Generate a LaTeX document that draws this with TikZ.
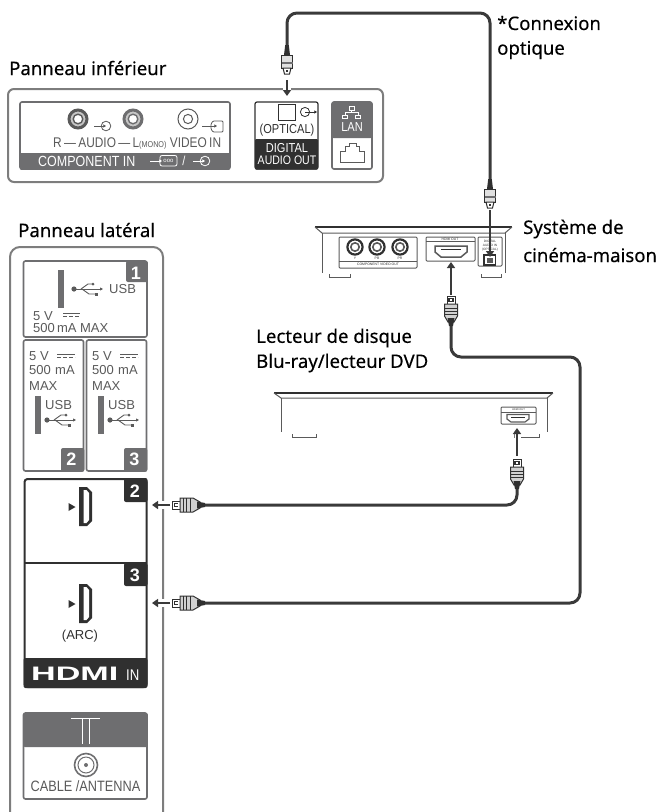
\documentclass[tikz,border=0pt]{standalone}
\usepackage{fontspec}
\usetikzlibrary{arrows.meta}
\setmainfont[FakeBold=0.25]{Noto Sans}
\newfontfamily\narrowf[FakeStretch=0.85]{Liberation Sans}
\newfontfamily\usualf{Liberation Sans}
\newfontfamily\wideb[FakeStretch=1.75]{Liberation Sans Bold}
\definecolor{cabl}{HTML}{3A3A3A}
\definecolor{pan}{HTML}{7D7D7D}
\definecolor{midg}{HTML}{6E6E70}
\definecolor{dk}{HTML}{303030}
\definecolor{txg}{HTML}{5A5A5A}
\tikzset{
  lab/.style={anchor=west,inner sep=0pt,font=\fontsize{18.6}{20}\selectfont,text=black},
  thin txt/.style={inner sep=0pt,font=\narrowf\fontsize{14}{15}\selectfont,text=txg},
  usb txt/.style={inner sep=0pt,anchor=west,font=\usualf\fontsize{13}{14}\selectfont,text=txg},
  white txt/.style={inner sep=0pt,font=\narrowf\fontsize{13}{15}\selectfont,text=white},
  tiny txt/.style={inner sep=0pt,font=\usualf\fontsize{3.4}{4}\selectfont,text=dk},
  panel/.style={draw=pan,line width=2pt,rounded corners=6pt},
  box/.style={draw=midg,line width=1.6pt,rounded corners=2pt},
  cable/.style={draw=cabl,line width=3pt,rounded corners=10pt},
  arrow line/.style={draw=cabl,line width=2pt,-{Triangle[length=6pt,width=8pt]}},
  halo/.style={draw=white,line width=8pt},
  dev/.style={draw=txg,line width=1pt},
  devtop/.style={draw=dk,line width=1.6pt},
  num/.style={inner sep=0pt,font=\usualf\bfseries\fontsize{18}{18}\selectfont,text=white},
}
% horizontal HDMI plug, tip at left
\newcommand{\plugH}[2]{\begin{scope}[shift={(#1,#2)}]
 \draw[fill=white,draw=dk,line width=.9pt] (0,-4) rectangle (8,4);
 \draw[fill=dk,draw=none] (2,-2.2) rectangle (6,2.2);
 \draw[fill=white,draw=none] (3.2,-1) rectangle (6,1);
 \draw[fill=black!18,draw=dk,line width=1pt] (8,-7) -- (21,-7) -- (28,-3) -- (28,3) -- (21,7) -- (8,7) -- cycle;
 \foreach \a in {11,14.5,18}{\draw[draw=dk,line width=.8pt] (\a,-7) -- (\a,7);}
 \draw[fill=dk,draw=none] (25,-3.5) -- (33,-2) -- (33,2) -- (25,3.5) -- cycle;
\end{scope}}
% vertical HDMI plug, tip at top
\newcommand{\plugV}[2]{\begin{scope}[shift={(#1,#2)}]
 \draw[fill=white,draw=dk,line width=.9pt] (-4,0) rectangle (4,8);
 \draw[fill=dk,draw=none] (-2.6,2) rectangle (2.6,6);
 \draw[fill=white,draw=none] (-1.2,3) rectangle (-.3,5);\draw[fill=white,draw=none] (.3,3) rectangle (1.2,5);
 \draw[fill=black!18,draw=dk,line width=1pt] (-6.5,8) -- (6.5,8) -- (6.5,20) -- (3,26) -- (-3,26) -- (-6.5,20) -- cycle;
 \foreach \a in {12,15,18}{\draw[draw=dk,line width=.8pt] (-6.5,\a) -- (6.5,\a);}
 \draw[fill=dk,draw=none] (-3.5,22) -- (3.5,22) -- (2,30) -- (-2,30) -- cycle;
\end{scope}}
% optical plug, cable above, tip below
\newcommand{\plugO}[2]{\begin{scope}[shift={(#1,#2)}]
 \draw[fill=dk,draw=none] (-1.8,-1) -- (1.8,-1) -- (3,9) -- (-3,9) -- cycle;
 \draw[fill=black!12,draw=dk,line width=1pt] (-5.5,9) rectangle (5.5,22);
 \draw[fill=midg,draw=none] (-5.5,16) rectangle (5.5,18);
 \draw[fill=white,draw=dk,line width=1pt] (-4,22) -- (4,22) -- (2.5,28) -- (-2.5,28) -- cycle;
 \fill[dk] (-1.2,24) rectangle (1.2,26);
\end{scope}}
% USB mark
\newcommand{\usbmark}[2]{\begin{scope}[shift={(#1,#2)}]
 \fill[txg] (0,0) circle (2.6);
 \draw[txg,line width=.9pt,-{Triangle[length=3pt,width=3pt]}] (0,0) -- (29,0);
 \draw[txg,line width=.9pt] (7,0) -- (14,-5) -- (19,-5);
 \fill[txg] (19,-5) circle (1.5);
 \draw[txg,line width=.9pt] (8,0) -- (15,5) -- (22,5);
 \fill[txg] (21,3.5) rectangle (24,6.5);
\end{scope}}
% DC mark
\newcommand{\dcmark}[3]{\begin{scope}[shift={(#1,#2)}]
 \draw[txg,line width=.9pt] (0,0) -- (#3,0);
 \draw[txg,line width=.9pt,dash pattern=on 4pt off 2pt] (0,3) -- (#3,3);
\end{scope}}
% small input mark: arrow into circle
\newcommand{\inmark}[3]{\begin{scope}[shift={(#1,#2)}]
 \draw[#3,line width=.8pt] (6,0) circle (4.8);
 \draw[#3,line width=.8pt,-{Triangle[length=2.6pt,width=3pt]}] (-6,0) -- (6,0);
\end{scope}}
% HDMI socket
\newcommand{\hdmisock}[2]{\begin{scope}[shift={(#1,#2)}]
 \fill[dk] (0,0) -- (8,0) -- (13,5) -- (13,34) -- (8,39) -- (0,39) -- cycle;
 \fill[white] (4.5,3) -- (7.5,3) -- (10,6) -- (10,33) -- (7.5,36) -- (4.5,36) -- cycle;
 \fill[dk] (-10.5,16) -- (-3.5,20) -- (-10.5,24) -- cycle;
\end{scope}}
\begin{document}
\begin{tikzpicture}[x=1pt,y=-1pt]
\useasboundingbox (0,0) rectangle (662,812);
% ---- labels
\node[lab] (lbot) at (9,68) {Panneau inférieur};
\node[lab] (lside) at (18,230) {Panneau latéral};
\node[lab] (lopt1) at (497,23) {*Connexion};
\node[lab] (lopt2) at (497,50) {optique};
\node[lab] (lhc1) at (523,229) {Système de};
\node[lab] (lhc2) at (523,255) {cinéma-maison};
\node[lab] (lbd1) at (256,338) {Lecteur de disque};
\node[lab] (lbd2) at (256,363) {Blu-ray/lecteur DVD};
% ---- bottom panel
\draw[panel] (8,89) rectangle (383,182);
\draw[box,fill=white] (20,102) rectangle (230,169);
\fill[midg,rounded corners=1pt] (20,153) rectangle (230,169.8);
\foreach \cx/\ci in {78/txg,133/midg}{
 \fill[black!22] (\cx,119) circle (8);
 \draw[\ci,line width=3pt] (\cx,119) circle (9);
 \fill[white] (\cx,119) circle (4.6);
 \draw[\ci,line width=1.4pt] (\cx,119) circle (4.8);}
\draw[txg,line width=1pt] (188,119) circle (10);
\draw[txg,line width=1pt] (188,119) circle (4.6);
\inmark{100}{126}{txg}
\begin{scope}[shift={(205,126)}]
 \draw[txg,line width=.8pt,rounded corners=1pt] (8,-5) -- (18,-5) -- (18,6) -- (8,6) -- (6,3) -- (6,-2) -- cycle;
 \draw[txg,line width=.8pt,-{Triangle[length=2.6pt,width=3pt]}] (-3,0) -- (12,0);
\end{scope}
\node[thin txt,anchor=west] (taudio) at (53,143) {R\,—\,AUDIO\,—\,L\raisebox{0pt}{\fontsize{8.5}{9}\selectfont(MONO)} VIDEO\,IN};
\node[white txt,anchor=west,font=\narrowf\fontsize{14.7}{15}\selectfont] (tcomp) at (38,161) {COMPONENT IN};
\draw[white,line width=.8pt,-{Triangle[length=2.6pt,width=3pt]}] (150,161) -- (162,161);
\draw[white,line width=.8pt,rounded corners=2pt] (160,155.5) rectangle (177,166);
\node[inner sep=0pt,font=\usualf\fontsize{6}{6}\selectfont,text=white] (tooo) at (168.5,160.5) {ooo};
\node[white txt] (tslash) at (184,161) {/};
\inmark{199}{161}{white}
\draw[draw=dk,line width=1.2pt,fill=white,rounded corners=2pt] (255,102) rectangle (318,169);
\fill[dk,rounded corners=1pt] (255,139) rectangle (318,169.6);
\draw[dk,line width=.9pt] (278,104.5) rectangle (295,120);
\draw[dk,line width=.8pt] (305,112) circle (4.6);
\draw[dk,line width=.8pt,-{Triangle[length=2.6pt,width=3pt]}] (305,112) -- (317,112);
\node[thin txt,text=dk,font=\narrowf\fontsize{13}{15}\selectfont] (topt) at (287,130) {(OPTICAL)};
\node[white txt] (tdig) at (287,148) {DIGITAL};
\node[white txt,font=\narrowf\fontsize{12.4}{15}\selectfont] (taud) at (287,160) {AUDIO OUT};
\draw[box,draw=midg,fill=white] (332,102) rectangle (372,169);
\fill[midg,rounded corners=1.5pt] (332,102) rectangle (372,138);
\begin{scope}[white,line width=.7pt]
 \draw (349,106.5) rectangle (354,110);
 \draw (351.5,110) -- (351.5,112.5) (345,115) -- (345,112.5) -- (358,112.5) -- (358,115);
 \draw (342.5,115) rectangle (347.5,118.5);
 \draw (355.5,115) rectangle (360.5,118.5);
\end{scope}
\node[white txt] (tlan) at (352,127.5) {LAN};
\draw[txg,line width=.9pt] (340,162) -- (340,151) -- (345,151) -- (345,146) -- (349,146) -- (349,143.5) -- (356,143.5) -- (356,146) -- (359,146) -- (359,151) -- (364,151) -- (364,162) -- cycle;
% ---- side panel
\begin{scope}
 \clip (0,240) rectangle (200,812);
 \draw[panel,rounded corners=10pt] (10,247) rectangle (163,830);
\end{scope}
\draw[box,fill=white] (23.5,261) rectangle (147,337);
\fill[midg,rounded corners=2pt] (126,261) rectangle (147.8,282);
\node[num] (n1) at (136,273) {1};
\fill[midg] (58,270) rectangle (64,308);
\usbmark{74}{289}
\node[usb txt] (tu1) at (109,289.5) {USB};
\node[usb txt] (tv1) at (33,316) {5 V};
\dcmark{63}{313.5}{17}
\node[usb txt] (tm1) at (33,328.5) {500\,mA MAX};
\foreach \dx/\nm in {0/2,63/3}{
 \begin{scope}[shift={(\dx,0)}]
 \draw[box,fill=white] (23.5,340) rectangle (83.5,471);
 \fill[midg,rounded corners=2pt] (61,448) rectangle (84.3,471.8);
 \node[num] at (71.5,459.5) {\nm};
 \node[usb txt] at (29,356) {5 V};
 \dcmark{57}{354}{18}
 \node[usb txt] at (29,370) {500\,\,mA};
 \node[usb txt] at (29,386) {MAX};
 \fill[midg] (35,396) rectangle (41,434);
 \node[usb txt] at (45,405) {USB};
 \usbmark{47}{420}
 \end{scope}}
% ---- HDMI block
\draw[draw=dk,line width=2pt,fill=white,rounded corners=3pt] (24.5,479) rectangle (146.5,687);
\draw[dk,line width=1.2pt] (24.5,563) -- (146.5,563);
\fill[dk,rounded corners=2pt] (23.5,658) rectangle (147.5,688);
\fill[dk,rounded corners=2pt] (124,478) rectangle (147.5,502);
\fill[dk,rounded corners=2pt] (124,563) rectangle (147.5,586);
\node[num] (n2) at (135,491) {2};
\node[num] (n3) at (135,575) {3};
\hdmisock{79}{487}
\hdmisock{79}{584}
\node[inner sep=0pt,font=\usualf\fontsize{13}{14}\selectfont,text=dk] (tarc) at (80,636) {(ARC)};
\node[inner sep=0pt,anchor=west,font=\wideb\fontsize{19.5}{20}\selectfont,text=white] (thd) at (31,674) {HDMI};
\node[white txt,anchor=west,font=\narrowf\fontsize{15.5}{16}\selectfont] (tin) at (126,675) {IN};
% ---- antenna block
\draw[box,draw=midg,fill=white] (23.5,713) rectangle (147,799);
\fill[midg,rounded corners=2pt] (23,713) rectangle (147.8,747);
\draw[white,line width=1pt] (71,718) -- (100,718) (82,718) -- (82,744) (89,718) -- (89,744);
\draw[midg,line width=1.6pt] (86,765) circle (11.5);
\draw[midg,line width=1pt] (86,765) circle (8);
\fill[midg] (86,765) circle (2);
\node[thin txt,font=\narrowf\fontsize{15}{16}\selectfont] (tcab) at (85.5,786) {CABLE /ANTENNA};
% ---- home theatre device
\draw[devtop] (315,227) -- (512,227);
\draw[dev] (315,227) -- (322,233) -- (505,233) -- (512,227);
\draw[dev] (322,233) -- (322,273) (505,233) -- (505,273);
\draw[dev] (329,274) -- (329,277) -- (350,277) -- (350,274);
\draw[dev] (481,274) -- (481,277) -- (501,277) -- (501,274);
\draw[dev,rounded corners=1pt] (339,237) rectangle (417,268);
\draw[dev] (339,261) -- (417,261);
\foreach \cx in {355,377,400}{
 \draw[dk,line width=2.2pt] (\cx,247) circle (7.6);
 \draw[txg,line width=1.6pt] (\cx,247) circle (4.2);}
\node[tiny txt] at (355,258.5) {Y};
\node[tiny txt] at (377,258.5) {PB};
\node[tiny txt] at (400,258.5) {PR};
\node[tiny txt] (tcv) at (378,264.7) {COMPONENT VIDEO OUT};
\draw[dev,rounded corners=1pt] (426,237) rectangle (475,261);
\draw[dev] (426,241) -- (475,241);
\node[tiny txt] (thout) at (450,239) {HDMI OUT};
\draw[txg,line width=1.5pt,fill=white] (435,246) -- (467,246) -- (467,252) -- (461,257) -- (441,257) -- (435,252) -- cycle;
\draw[dk,line width=1.4pt] (441,249.5) -- (461,249.5);
\draw[dev,rounded corners=1pt] (478,237) rectangle (502,266);
\node[tiny txt,align=center,font=\usualf\fontsize{3.2}{4}\selectfont] (tdin) at (490,245.5) {DIGITAL\\AUDIO IN\\(OPTICAL)};
\draw[dk,line width=1.6pt,fill=white] (484,255) rectangle (495.5,265);
\fill[txg] (487,258) rectangle (492.5,262.5);
% ---- Blu-ray device
\draw[devtop] (274,393) -- (553,393);
\draw[dev] (274,393) -- (281,398) -- (547,398) -- (553,393);
\draw[dev] (281,398) -- (281,432) (547,398) -- (547,432);
\draw[dev] (292,434) -- (292,437) -- (316,437) -- (316,434);
\draw[dev] (521,437) -- (539,437) -- (539,434);
\draw[pan,line width=.8pt] (514,432) -- (514,438);
\draw[dev,rounded corners=1pt] (501,407) rectangle (536,424);
\draw[dev] (501,412) -- (536,412);
\node[tiny txt,font=\usualf\fontsize{2.6}{3}\selectfont] (tbh) at (518.5,409.5) {HDMI OUT};
\draw[txg,line width=1.2pt,fill=white] (507,414.5) -- (529,414.5) -- (529,419) -- (525,422) -- (511,422) -- (507,419) -- cycle;
\draw[dk,line width=1.2pt] (511,417.5) -- (525,417.5);
% ---- named connector ends
\coordinate (o1) at (287,48);
\coordinate (o2) at (490,185);
\coordinate (h1a) at (204,505);
\coordinate (h1b) at (517,487);
\coordinate (h2a) at (204,603);
\coordinate (h2b) at (451,323);
\coordinate (ca) at (287,13);
\coordinate (cb) at (490,13);
\coordinate (cc) at (517,505);
\coordinate (cd) at (580,603);
\coordinate (ce) at (580,357);
\coordinate (cf) at (451,357);
% cables
\draw[cable] (o1) -- (ca) -- (cb) -- (o2);
\draw[cable] (h1a) -- (cc) -- (h1b);
\draw[cable] (h2a) -- (cd) -- (ce) -- (cf) -- (h2b);
% plugs
\plugO{287}{46}
\plugO{490}{180}
\plugH{172}{505}
\plugH{172}{603}
\plugV{517}{459}
\plugV{451}{296}
% arrows with halo
\coordinate (a1s) at (287,80); \coordinate (a1e) at (287,96);
\coordinate (a2s) at (490,210); \coordinate (a2e) at (490,257);
\coordinate (a3s) at (517,456); \coordinate (a3e) at (517,428);
\coordinate (a4s) at (451,295); \coordinate (a4e) at (451,262);
\coordinate (a5s) at (170,505); \coordinate (a5e) at (152,505);
\coordinate (a6s) at (170,603); \coordinate (a6e) at (152,603);
\coordinate (a1h) at (287,84); \coordinate (a1i) at (287,94);
\coordinate (a5h) at (167,505); \coordinate (a5i) at (158,505);
\coordinate (a6h) at (167,603); \coordinate (a6i) at (158,603);
\draw[halo] (a1h) -- (a1i);
\draw[halo] (a5h) -- (a5i);
\draw[halo] (a6h) -- (a6i);
\draw[arrow line] (a1s) -- (a1e);
\draw[arrow line] (a2s) -- (a2e);
\draw[arrow line] (a3s) -- (a3e);
\draw[arrow line] (a4s) -- (a4e);
\draw[arrow line] (a5s) -- (a5e);
\draw[arrow line] (a6s) -- (a6e);
\end{tikzpicture}
\end{document}
